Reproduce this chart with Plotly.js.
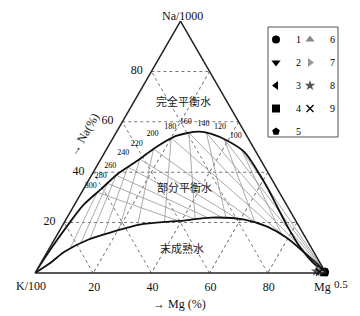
<!DOCTYPE html>
<html><head><meta charset="utf-8">
<script src="https://cdn.plot.ly/plotly-3.0.1.min.js"></script>
<style>html,body{margin:0;padding:0;background:#fff}#chart{width:360px;height:316px}</style>
</head><body><div id="chart"></div>
<script>
// Full-equilibrium (upper) curve, percent of Na/1000, K/100, Mg^0.5
const upperNa = [0,10.0,19.2,27.2,33.2,39.2,44.4,50.0,54.4,56.1,55.2,52.4,48.0,41.2,34.4,26.4,18.4,10.4,4.0,0];
const upperK  = [100,89.3,79.0,69.6,60.8,52.1,42.8,33.3,24.3,15.7,11.8,7.5,4.0,3.3,3.2,3.6,4.0,3.8,2.4,0];
const upperMg = [0,0.7,1.8,3.2,6.0,8.7,12.8,16.7,21.3,28.2,33.0,40.1,48.0,55.5,62.4,70.0,77.6,85.8,93.6,100];
// Immature-water (lower) curve
const lowerNa = [0,4.4,8.4,13.2,16.4,19.2,20.4,20.8,22.0,21.2,18.4,14.0,8.4,4.0,0];
const lowerK  = [100,92.1,85.7,75.2,64.9,54.4,43.7,38.4,28.4,17.4,11.0,6.5,3.5,1.4,0];
const lowerMg = [0,3.5,5.9,11.6,18.7,26.4,35.9,40.8,49.6,61.4,70.6,79.5,88.1,94.6,100];
// Isotherms (°C): start on the upper curve
const temps = [300,280,260,240,220,200,180,160,140,120,100];
const tNa = [32.0,35.6,38.8,42.0,45.2,49.2,53.6,55.6,55.6,53.2,48.8];
const tK  = [62.6,57.3,52.7,47.1,41.4,34.7,26.4,19.3,13.3,8.4,4.6];
const tMg = [5.4,7.1,8.5,10.9,13.4,16.1,20.0,25.1,31.1,38.4,46.6];
// K/Mg isotherm ends (on lower curve)
const kmNa = [9.4,11.6,13.5,15.2,17.0,18.9,20.2,21.3,21.6,19.9,15.1];
const kmK  = [83.4,78.6,74.4,68.8,62.7,55.3,45.4,34.3,23.5,14.4,7.6];
const kmMg = [7.2,9.8,12.1,16.0,20.3,25.8,34.4,44.4,54.9,65.7,77.3];
// Na/K isotherm ends
const nkNa = [20.7,21.3,21.9,21.7,21.4,19.6,14.7,0,0,0,0];
const nkK  = [40.4,34.3,29.6,24.3,19.6,13.8,7.2,0,0,0,0];
const nkMg = [38.9,44.4,48.5,54.0,59.0,66.6,78.1,100,100,100,100];
// Temperature label anchors
const labNa = [34.4,38.4,42.4,47.6,51.2,55.2,58.0,60.0,59.2,58.0,54.4];
const labK  = [63.6,58.2,52.9,45.9,39.4,32.0,24.5,18.2,12.5,7.4,3.8];
const labMg = [2.0,3.4,4.7,6.5,9.4,12.8,17.5,21.8,28.3,34.6,41.8];
// Samples
const sampleNames = ['1','2','3','4','5','6','7','8','9'];
const sNa = [0.3,0.4,0.5,0.3,0.2,0.6,0.5,0.7,0.4];
const sK  = [0.2,0.4,0.6,0.5,0.3,2.4,1.8,3.0,2.0];
const sMg = [99.5,99.2,98.9,99.2,99.5,97.0,97.7,96.3,97.6];
const tickVals = [20,40,60,80];
const mgTickText = ['80','60','40','20'];

const sampleSymbols = ['circle','triangle-down','triangle-left','square','pentagon','triangle-up','triangle-right','star','x-thin-open'];
const sampleColors = ['#000','#000','#000','#000','#000','#888','#999','#555','#000'];

const hatchA=[],hatchB=[],hatchC=[];
for(let i=0;i<temps.length;i++){
  hatchA.push(tNa[i],kmNa[i],null,tNa[i],nkNa[i],null);
  hatchB.push(tK[i],kmK[i],null,tK[i],nkK[i],null);
  hatchC.push(tMg[i],kmMg[i],null,tMg[i],nkMg[i],null);
}
const traces = [
  {type:'scatterternary',mode:'lines',a:hatchA,b:hatchB,c:hatchC,line:{color:'#959595',width:0.8},showlegend:false,hoverinfo:'skip',connectgaps:false},
  {type:'scatterternary',mode:'lines',a:upperNa,b:upperK,c:upperMg,line:{color:'#111',width:1.8,shape:'spline',smoothing:0.8},showlegend:false},
  {type:'scatterternary',mode:'lines',a:lowerNa,b:lowerK,c:lowerMg,line:{color:'#111',width:1.8,shape:'spline',smoothing:0.8},showlegend:false},
  {type:'scatterternary',mode:'text',a:labNa,b:labK,c:labMg,text:temps.map(String),textfont:{family:'Liberation Serif',size:8,color:'#000'},showlegend:false,hoverinfo:'skip',cliponaxis:false}
];
for(let i=0;i<sampleNames.length;i++){
  const isX = sampleSymbols[i].startsWith('x');
  traces.push({type:'scatterternary',mode:'markers',name:sampleNames[i],a:[sNa[i]],b:[sK[i]],c:[sMg[i]],
    cliponaxis:false,legend: i<5?'legend':'legend2',legendgroup:'g'+i,
    marker:{symbol:sampleSymbols[i],size:isX?7:8,color:sampleColors[i],line:{color:sampleColors[i],width:isX?1.3:0}}});
}
const axisBase = {ticks:'outside',tickcolor:'rgba(0,0,0,0)',ticklen:2,tickfont:{size:12,family:'Liberation Serif',color:'#111'},showgrid:true,gridcolor:'#777',griddash:'dot',gridwidth:1,
  showline:true,linecolor:'#222',linewidth:1.5,tickmode:'array',tickvals:tickVals,title:{text:''}};
const ann = (text,x,y,extra)=>Object.assign({text:text,xref:'paper',yref:'paper',x:x/360,y:1-y/316,xanchor:'center',yanchor:'middle',showarrow:false,font:{size:12,color:'#111'}},extra||{});
const cjk = {font:{size:11,family:'Noto Sans CJK SC',color:'#222'}};
const layout = {
  width:360,height:316,margin:{l:0,r:0,t:0,b:0,autoexpand:false},paper_bgcolor:'#fff',
  font:{family:'Liberation Serif, serif',color:'#111'},
  ternary:{sum:100,bgcolor:'#fff',domain:{x:[35/360,326/360],y:[43/316,295/316]},
    aaxis:Object.assign({},axisBase,{ticklen:6}),
    baxis:Object.assign({},axisBase,{ticktext:mgTickText}),
    caxis:Object.assign({},axisBase,{showticklabels:false})
  },
  legend:{x:256/360,y:1-25/316,xanchor:'left',yanchor:'top',bgcolor:'rgba(0,0,0,0)',borderwidth:0,font:{size:10,family:'Liberation Serif',color:'#000'},tracegroupgap:4},
  legend2:{x:290/360,y:1-25/316,xanchor:'left',yanchor:'top',bgcolor:'rgba(0,0,0,0)',borderwidth:0,font:{size:10,family:'Liberation Serif',color:'#000'},tracegroupgap:4},
  shapes:[{type:'rect',xref:'paper',yref:'paper',x0:268/360,x1:338/360,y0:1-137/316,y1:1-27/316,line:{color:'#555',width:1}}],
  annotations:[
    ann('Na/1000',182,16),
    ann('K/100',31,286),
    ann('Mg',322,287),
    ann('0.5',341,284,{font:{size:11,color:'#111'}}),
    ann('→ Na(%)',84,135,{textangle:-60}),
    ann('→ Mg (%)',179,304),
    ann('完全平衡水',183,101,cjk),
    ann('部分平衡水',184,187,cjk),
    ann('末成熟水',182,248,cjk)
  ]
};
Plotly.newPlot('chart',traces,layout,{staticPlot:true});
</script></body></html>
